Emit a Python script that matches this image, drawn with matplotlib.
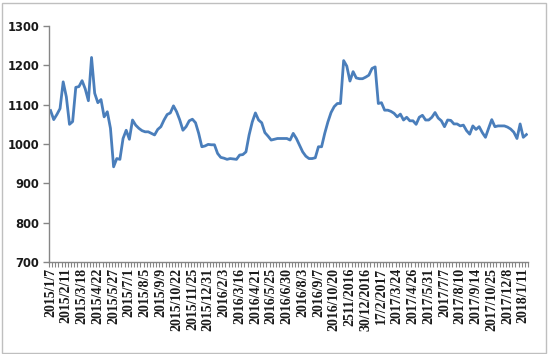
import matplotlib
matplotlib.use("Agg")
import matplotlib.pyplot as plt
from matplotlib.patches import Rectangle
import numpy as np

values = [
    1085, 1062, 1075, 1090, 1158, 1120, 1050, 1057, 1144, 1146,
    1161, 1140, 1110, 1220, 1129, 1105, 1113, 1069, 1082, 1040,
    942, 963, 961, 1014, 1035, 1012, 1061, 1048, 1040, 1034,
    1031, 1031, 1027, 1023, 1037, 1044, 1061, 1075, 1079, 1097,
    1082, 1061, 1035, 1044, 1059, 1063, 1054, 1027, 993, 995,
    999, 998, 998, 976, 966, 964, 961, 963, 962, 961,
    972, 973, 980, 1023, 1056, 1079, 1061, 1054, 1029, 1020,
    1010, 1012, 1014, 1014, 1014, 1014, 1010, 1027, 1014, 997,
    980, 969, 963, 963, 965, 993, 993, 1027, 1056, 1080,
    1095, 1103, 1103, 1212, 1198, 1160, 1184, 1168, 1166, 1166,
    1170, 1175, 1192, 1196, 1103, 1105, 1086, 1086, 1083, 1078,
    1069, 1076, 1061, 1068, 1059, 1059, 1050, 1068, 1073, 1061,
    1061, 1068, 1080, 1066, 1059, 1044, 1061, 1060, 1051, 1051,
    1046, 1048, 1034, 1025, 1046, 1037, 1044, 1029, 1017, 1040,
    1062, 1044, 1046, 1046, 1046, 1043, 1038, 1030, 1014, 1051,
    1017, 1024,
]

tick_labels = [
    "2015/1/7", "2015/2/11", "2015/3/18", "2015/4/22", "2015/5/27",
    "2015/7/1", "2015/8/5", "2015/9/9", "2015/10/22", "2015/11/25",
    "2015/12/31", "2016/2/3", "2016/3/16", "2016/4/21", "2016/5/25",
    "2016/6/30", "2016/8/3", "2016/9/7", "2016/10/20", "2511/2016",
    "30/12/2016", "17/2/2017", "2017/3/24", "2017/4/26", "2017/5/31",
    "2017/7/7", "2017/8/10", "2017/9/14", "2017/10/25", "2017/12/8",
    "2018/1/11",
]
label_step = 5

y_ticks = [700, 800, 900, 1000, 1100, 1200, 1300]

W, H = 548, 354
fig = plt.figure(figsize=(W / 100, H / 100), dpi=100)
ax = fig.add_axes([49 / W, 92 / H, 479 / W, 236 / H])

n = len(values)
x = np.arange(n)
ax.plot(x, values, color="#4A7EBB", linewidth=2.0, solid_joinstyle="round")

ax.set_xlim(-0.5, n - 0.5)
ax.set_ylim(700, 1300)
ax.set_yticks(y_ticks)
ax.set_yticklabels([str(v) for v in y_ticks], fontsize=8.3, fontweight="bold",
                   color="#1a1a1a", family="DejaVu Sans")

label_pos = np.arange(0, len(tick_labels) * label_step, label_step)
ax.set_xticks(label_pos)
ax.set_xticklabels(tick_labels, rotation=90, fontsize=10, family="Liberation Serif",
                   fontweight="bold", color="#1a1a1a", va="top", ha="center")
ax.set_xticks(np.arange(-0.5, n, 1), minor=True)

for s in ["top", "right"]:
    ax.spines[s].set_visible(False)
for s in ["left", "bottom"]:
    ax.spines[s].set_color("#868686")
    ax.spines[s].set_linewidth(1.0)

ax.tick_params(axis="y", direction="out", length=4, width=1, color="#868686", pad=3)
ax.tick_params(axis="x", which="major", length=0, pad=4)
ax.tick_params(axis="x", which="minor", direction="out", length=3.5, width=0.8, color="#868686")

fig.patches.append(Rectangle((1.5 / W, 1.5 / H), (W - 4) / W, (H - 4) / H,
                             transform=fig.transFigure, fill=False,
                             edgecolor="#BFBFBF", linewidth=1.0))

fig.savefig("out.png", dpi=100)
